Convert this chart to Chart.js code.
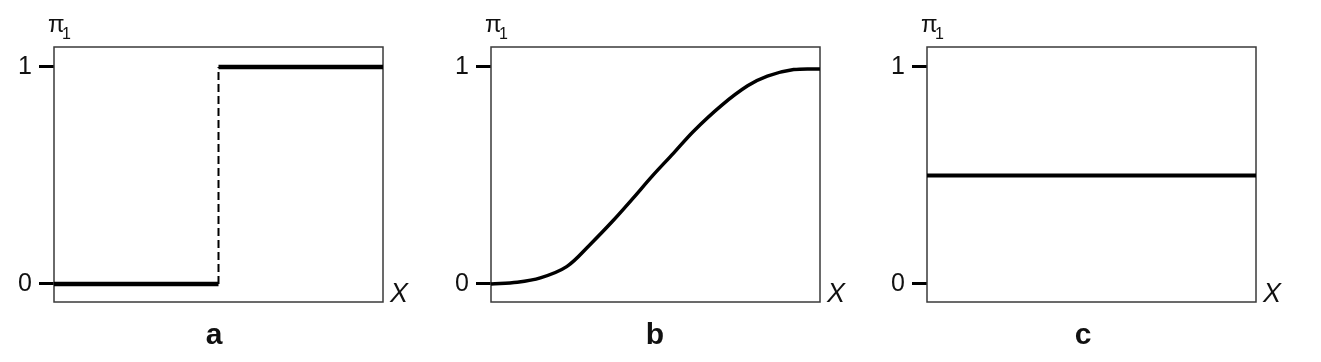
<!DOCTYPE html>
<html>
<head>
<meta charset="utf-8">
<script src="https://cdn.jsdelivr.net/npm/chart.js@4.4.1/dist/chart.umd.min.js"></script>
<style>
  body { margin: 0; background: #fff; }
  #wrap { position: relative; width: 1321px; height: 362px; }
  canvas { position: absolute; top: 0; }
</style>
</head>
<body>
<div id="wrap">
  <canvas id="chartA" width="437" height="362" style="left:0px"></canvas>
  <canvas id="chartB" width="436" height="362" style="left:437px"></canvas>
  <canvas id="chartC" width="448" height="362" style="left:873px"></canvas>
</div>
<script>
// y axis ticks
const yTicks = [0, 1];
const yTickLabels = ['0', '1'];

// panel a: step function
const stepLowX = [0, 0.5];
const stepLowY = [0, 0];
const stepHighX = [0.5, 1];
const stepHighY = [1, 1];
const stepJumpX = [0.5, 0.5];
const stepJumpY = [0, 1];

// panel b: s-shaped curve
const curveX = [0, 0.08, 0.15, 0.23, 0.30, 0.37, 0.43, 0.49, 0.555, 0.615, 0.70, 0.78, 0.84, 0.92, 1.0];
const curveY = [0, 0.008, 0.028, 0.08, 0.18, 0.29, 0.392, 0.497, 0.603, 0.703, 0.822, 0.913, 0.958, 0.988, 0.991];

// panel c: flat line
const flatX = [0, 1];
const flatY = [0.5, 0.5];

const FONT = '"Liberation Sans", Arial, sans-serif';

function pts(xs, ys) {
  return xs.map((x, i) => ({ x: x, y: ys[i] }));
}

// box, pi_1, X and panel letter
const decor = {
  id: 'decor',
  beforeDatasetsDraw(chart) {
    const ca = chart.chartArea, ctx = chart.ctx;
    ctx.save();
    ctx.strokeStyle = '#3a3a3a';
    ctx.lineWidth = 1.5;
    ctx.strokeRect(ca.left, ca.top, ca.right - ca.left, ca.bottom - ca.top);
    ctx.restore();
  },
  afterDraw(chart, args, opts) {
    const ca = chart.chartArea, ctx = chart.ctx;
    ctx.save();
    ctx.fillStyle = '#111';
    ctx.textAlign = 'left';
    ctx.textBaseline = 'alphabetic';
    ctx.font = '24px ' + FONT;
    ctx.fillText('π', ca.left - 6, 32);
    ctx.font = '16px ' + FONT;
    ctx.fillText('1', ca.left + 8, 39);
    ctx.font = 'italic 27px ' + FONT;
    ctx.fillText('X', ca.right + 7, 302);
    ctx.font = 'bold 30px ' + FONT;
    ctx.textAlign = 'center';
    ctx.fillText(opts.letter, opts.letterX, 344);
    ctx.restore();
  }
};

function makeChart(id, datasets, letter, letterX, width) {
  return new Chart(document.getElementById(id), {
    type: 'line',
    data: { datasets: datasets },
    options: {
      responsive: false,
      animation: false,
      devicePixelRatio: 1,
      layout: { padding: { left: 0, top: 47, right: width - 383, bottom: 60 } },
      elements: { point: { radius: 0 } },
      plugins: {
        legend: { display: false },
        tooltip: { enabled: false },
        decor: { letter: letter, letterX: letterX }
      },
      scales: {
        x: { type: 'linear', min: 0, max: 1, display: false },
        y: {
          type: 'linear',
          min: -0.083,
          max: 1.092,
          afterFit: s => { s.width = 54; },
          afterBuildTicks: s => { s.ticks = yTicks.map(v => ({ value: v })); },
          border: { display: false },
          grid: { drawOnChartArea: false, drawTicks: true, tickLength: 15, tickWidth: 3, tickColor: '#000' },
          ticks: {
            autoSkip: false,
            padding: 7,
            color: '#111',
            font: { family: FONT, size: 25 },
            callback: v => yTickLabels[yTicks.indexOf(v)]
          }
        }
      }
    },
    plugins: [decor]
  });
}

const lineStyle = { borderColor: '#000', fill: false, pointRadius: 0 };

makeChart('chartA', [
  Object.assign({ data: pts(stepLowX, stepLowY), borderWidth: 4.5 }, lineStyle),
  Object.assign({ data: pts(stepJumpX, stepJumpY), borderWidth: 2, borderDash: [8, 4] }, lineStyle),
  Object.assign({ data: pts(stepHighX, stepHighY), borderWidth: 4.5 }, lineStyle)
], 'a', 214, 437);

makeChart('chartB', [
  Object.assign({ data: pts(curveX, curveY), borderWidth: 3.5, tension: 0.35 }, lineStyle)
], 'b', 218, 436);

makeChart('chartC', [
  Object.assign({ data: pts(flatX, flatY), borderWidth: 4 }, lineStyle)
], 'c', 210, 448);
</script>
</body>
</html>
